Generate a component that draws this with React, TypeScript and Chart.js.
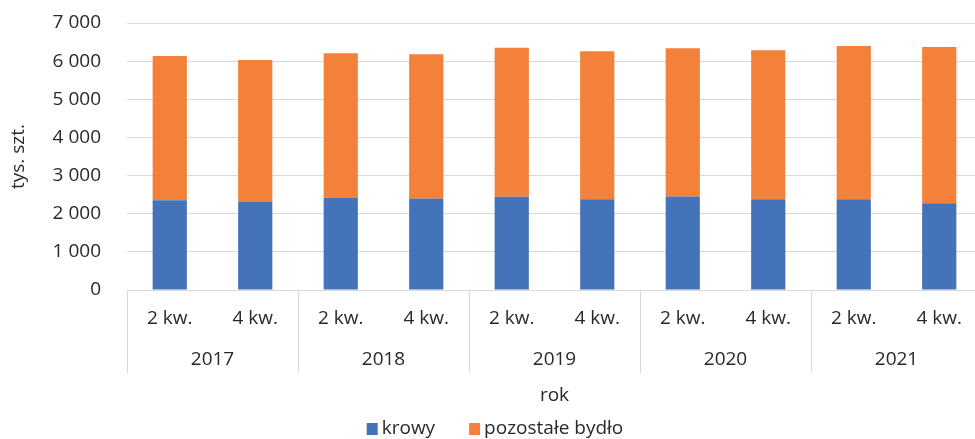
import React, { useEffect, useRef } from "react";
import { Chart, registerables } from "chart.js";

Chart.register(...registerables);

const quarters = ["2 kw.", "4 kw.", "2 kw.", "4 kw.", "2 kw.", "4 kw.", "2 kw.", "4 kw.", "2 kw.", "4 kw."];
const years = ["2017", "2018", "2019", "2020", "2021"];
const krowy = [2350, 2320, 2416, 2398, 2442, 2382, 2450, 2382, 2382, 2277];
const pozostale = [3784, 3709, 3788, 3780, 3909, 3875, 3885, 3901, 4013, 4092];
const seriesNames = ["krowy", "pozostałe bydło"];
const yTitle = "tys. szt.";
const xTitle = "rok";

const FONT = "'Open Sans', 'Noto Sans', sans-serif";
const TEXT = "#282828";
const GRID = "#d9d9d9";
const BLUE = "#4573BA";
const ORANGE = "#F3813A";

const W = 990;
const H = 439;

const fmt = (v: number) => String(v).replace(/\B(?=(\d{3})+(?!\d))/g, " ");

const axisPlugin = {
  id: "multiAxis",
  afterDraw(chart: any) {
    const { ctx, chartArea, scales } = chart;
    const xs = scales.x;
    const n = quarters.length;
    const cat = (chartArea.right - chartArea.left) / n;
    ctx.save();
    ctx.font = `19px ${FONT}`;
    ctx.fillStyle = TEXT;
    ctx.textAlign = "center";
    ctx.textBaseline = "middle";
    for (let i = 0; i < n; i++) {
      ctx.fillText(quarters[i], xs.getPixelForValue(i), 319);
    }
    for (let g = 0; g < years.length; g++) {
      const c = (xs.getPixelForValue(2 * g) + xs.getPixelForValue(2 * g + 1)) / 2;
      ctx.fillText(years[g], c, 360);
    }
    ctx.strokeStyle = GRID;
    ctx.lineWidth = 1;
    for (let g = 0; g <= years.length; g++) {
      const idx = Math.min(2 * g, n - 1);
      let x = xs.getPixelForValue(idx) - cat / 2;
      if (2 * g >= n) x = xs.getPixelForValue(n - 1) + cat / 2;
      x = Math.round(x) + 0.5;
      ctx.beginPath();
      ctx.moveTo(x, chartArea.bottom);
      ctx.lineTo(x, 373);
      ctx.stroke();
    }
    ctx.fillText(xTitle, (chartArea.left + chartArea.right) / 2, 396);

    // legend
    const ds = chart.data.datasets;
    const box = 11;
    const gap = 4;
    const spacing = 34;
    const widths = ds.map((d: any) => ctx.measureText(d.label).width);
    let total = 0;
    widths.forEach((w: number, i: number) => {
      total += box + gap + w + (i < widths.length - 1 ? spacing : 0);
    });
    let x = W / 2 - total / 2;
    const ly = 429;
    ctx.textAlign = "left";
    ds.forEach((d: any, i: number) => {
      ctx.fillStyle = d.backgroundColor;
      ctx.fillRect(x, ly - 6, box, 12);
      x += box + gap;
      ctx.fillStyle = TEXT;
      ctx.fillText(d.label, x, ly);
      x += widths[i] + spacing;
    });
    ctx.restore();
  },
};

export default function App() {
  const ref = useRef<HTMLCanvasElement>(null);
  useEffect(() => {
    if (!ref.current) return;
    const chart = new Chart(ref.current, {
      type: "bar",
      data: {
        labels: quarters,
        datasets: [
          { label: seriesNames[0], data: krowy, backgroundColor: BLUE, borderWidth: 0 },
          { label: seriesNames[1], data: pozostale, backgroundColor: ORANGE, borderWidth: 0 },
        ],
      },
      options: {
        responsive: false,
        animation: false,
        devicePixelRatio: 1,
        layout: { padding: { top: 23, right: 8, left: 0, bottom: 0 } },
        datasets: { bar: { barPercentage: 0.4, categoryPercentage: 1 } },
        plugins: { legend: { display: false }, tooltip: { enabled: false } },
        scales: {
          x: {
            stacked: true,
            ticks: { display: false },
            grid: { display: false },
            border: { display: false },
            afterFit: (s: any) => {
              s.height = H - 290;
              s.paddingLeft = 0;
              s.paddingRight = 0;
            },
          },
          y: {
            stacked: true,
            min: 0,
            max: 7000,
            ticks: {
              stepSize: 1000,
              padding: 26,
              color: TEXT,
              font: { family: FONT, size: 19 },
              callback: (v: any) => fmt(Number(v)),
            },
            grid: { color: GRID, lineWidth: 1, drawTicks: false },
            border: { display: false },
            title: {
              display: true,
              text: yTitle,
              color: TEXT,
              font: { family: FONT, size: 19 },
              padding: { top: 7.6, bottom: 0 },
            },
            afterFit: (s: any) => {
              s.width = 127;
              s.paddingTop = 0;
              s.paddingBottom = 0;
            },
          },
        },
      },
      plugins: [axisPlugin],
    });
    return () => chart.destroy();
  }, []);
  return (
    <div style={{ position: "absolute", left: 0, top: 0, width: W, height: H, background: "#fff" }}>
      <canvas ref={ref} width={W} height={H} style={{ display: "block" }} />
    </div>
  );
}
